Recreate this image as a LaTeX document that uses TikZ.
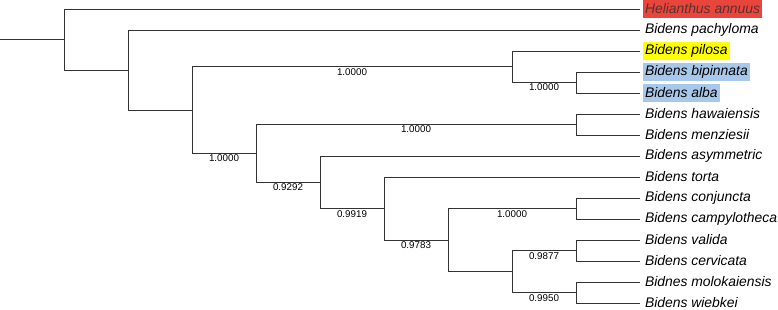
\documentclass[tikz,border=0pt]{standalone}
\usepackage{fontspec}
\setmainfont{Liberation Sans}
\usetikzlibrary{positioning}
\definecolor{hlred}{HTML}{E8463C}
\definecolor{hlredtext}{HTML}{5A3030}
\definecolor{hlyellow}{HTML}{FFFF00}
\definecolor{hlblue}{HTML}{A7C8EA}

\begin{document}
\begin{tikzpicture}[
    x = 64pt, y = -21pt,
    branch/.style  = {draw=black!80, line width=0.9pt},
    taxon/.style   = {anchor=west, inner xsep=2pt, inner ysep=1pt, outer xsep=3pt,
                      font=\fontsize{13.9}{15}\selectfont\itshape},
    marked/.style  = {taxon, fill=#1, minimum height=18pt, inner ysep=0pt},
    support/.style = {below, inner sep=1.2pt, pos=0.75, font=\fontsize{9.8}{11}\selectfont},
]
\useasboundingbox (0,-0.42857) rectangle (12.15625,14.28571);

%% Taxa
\node[marked=hlred, text=hlredtext] (hel) at (10,0)  {Helianthus annuus};
\node[taxon]              (pach) at (10,1)  {Bidens pachyloma};
\node[marked=hlyellow]    (pil)  at (10,2)  {Bidens pilosa};
\node[marked=hlblue]      (bip)  at (10,3)  {Bidens bipinnata};
\node[marked=hlblue]      (alb)  at (10,4)  {Bidens alba};
\node[taxon]              (haw)  at (10,5)  {Bidens hawaiensis};
\node[taxon]              (men)  at (10,6)  {Bidens menziesii};
\node[taxon]              (asy)  at (10,7)  {Bidens asymmetric};
\node[taxon]              (tor)  at (10,8)  {Bidens torta};
\node[taxon]              (con)  at (10,9)  {Bidens conjuncta};
\node[taxon]              (cam)  at (10,10) {Bidens campylotheca};
\node[taxon]              (val)  at (10,11) {Bidens valida};
\node[taxon]              (cer)  at (10,12) {Bidens cervicata};
\node[taxon]              (mol)  at (10,13) {Bidnes molokaiensis};
\node[taxon]              (wie)  at (10,14) {Bidens wiebkei};

%% Internal nodes
\coordinate (root) at (0,1.453);
\coordinate (n1)  at (1,1.453);
\coordinate (n2)  at (2,2.906);
\coordinate (n3)  at (3,4.8125);
\coordinate (n4)  at (8,2.75);
\coordinate (n5)  at (9,3.5);
\coordinate (n6)  at (4,6.875);
\coordinate (n7)  at (9,5.5);
\coordinate (n8)  at (5,8.25);
\coordinate (n9)  at (6,9.5);
\coordinate (n10) at (7,11);
\coordinate (n11) at (9,9.5);
\coordinate (n12) at (8,12.5);
\coordinate (n13) at (9,11.5);
\coordinate (n14) at (9,13.5);

%% Branches
\draw[branch] (root) -- (n1);
\draw[branch] (n1) |- (hel.west);
\draw[branch] (n1) |- (n2);
\draw[branch] (n2) |- (pach.west);
\draw[branch] (n2) |- (n3);
\draw[branch] (n3) |- node[support] {1.0000} (n4);
\draw[branch] (n3) |- node[support] {1.0000} (n6);
\draw[branch] (n4) |- (pil.west);
\draw[branch] (n4) |- node[support] {1.0000} (n5);
\draw[branch] (n5) |- (bip.west);
\draw[branch] (n5) |- (alb.west);
\draw[branch] (n6) |- node[support] {1.0000} (n7);
\draw[branch] (n6) |- node[support] {0.9292} (n8);
\draw[branch] (n7) |- (haw.west);
\draw[branch] (n7) |- (men.west);
\draw[branch] (n8) |- (asy.west);
\draw[branch] (n8) |- node[support] {0.9919} (n9);
\draw[branch] (n9) |- (tor.west);
\draw[branch] (n9) |- node[support] {0.9783} (n10);
\draw[branch] (n10) |- node[support] {1.0000} (n11);
\draw[branch] (n10) |- (n12);
\draw[branch] (n11) |- (con.west);
\draw[branch] (n11) |- (cam.west);
\draw[branch] (n12) |- node[support] {0.9877} (n13);
\draw[branch] (n12) |- node[support] {0.9950} (n14);
\draw[branch] (n13) |- (val.west);
\draw[branch] (n13) |- (cer.west);
\draw[branch] (n14) |- (mol.west);
\draw[branch] (n14) |- (wie.west);

\end{tikzpicture}
\end{document}
